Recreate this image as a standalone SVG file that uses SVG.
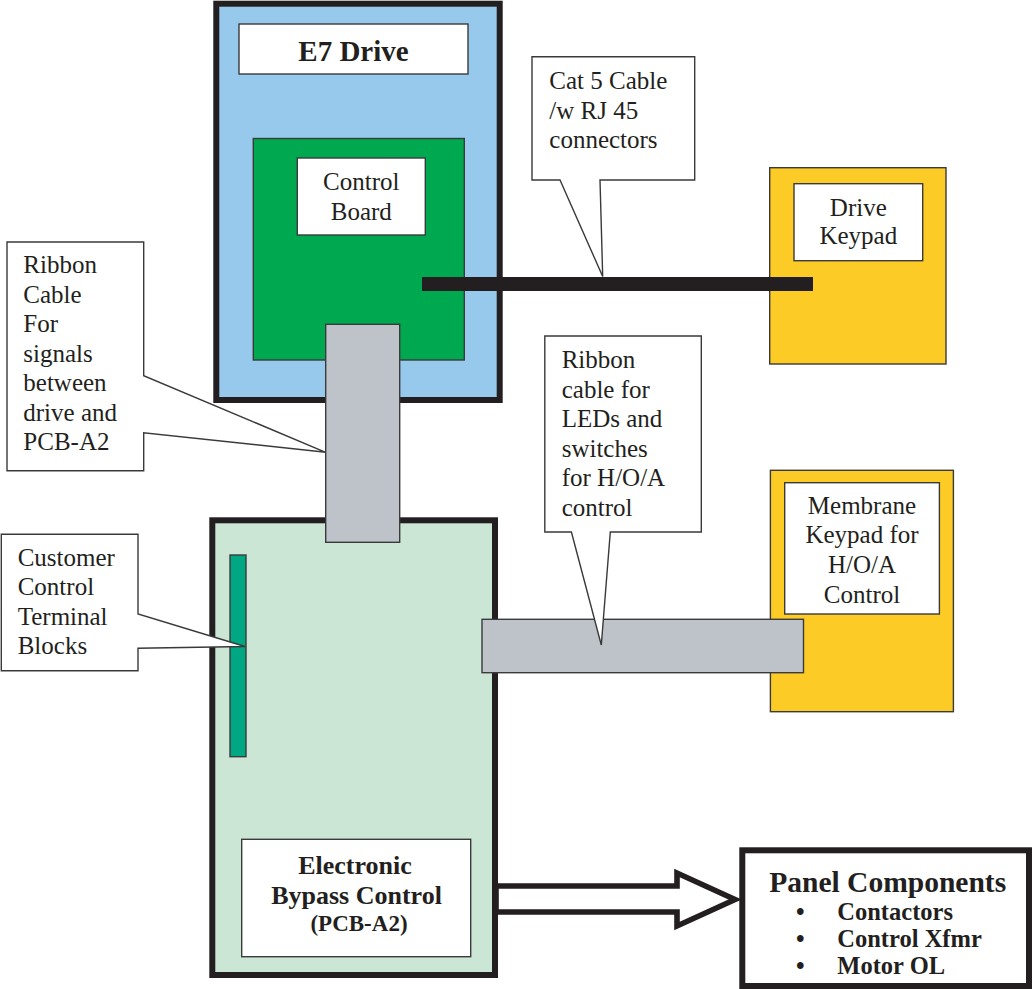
<svg xmlns="http://www.w3.org/2000/svg" width="1032" height="989" viewBox="0 0 1032 989">
<style>
.thick{stroke:#231f20;stroke-width:6;}
.thin{stroke:#3a3a3a;stroke-width:1.4;}
.lbl{fill:#fff;stroke:#3a3a3a;stroke-width:1.4;}
.t{font-family:"Liberation Serif","Times New Roman",serif;font-size:25px;fill:#231f20;}
.c{text-anchor:middle;}
.b{font-weight:bold;}
.li{font-size:24.5px;}
</style>
<rect width="1032" height="989" fill="#fff"/>
<g id="e7-drive">
  <rect x="216.3" y="3.7" width="283.4" height="396.3" fill="#96c9ec" class="thick"/>
  <rect x="239" y="24" width="229" height="50" class="lbl"/>
  <text x="353.5" y="60.7" class="t c b" style="font-size:29px">E7 Drive</text>
</g>
<g id="control-board">
  <rect x="253.3" y="138.5" width="211" height="221.5" fill="#00a94f" class="thin"/>
  <rect x="297.3" y="158" width="128" height="77" class="lbl"/>
  <text class="t c" x="361.3" y="190">Control</text>
  <text class="t c" x="361.3" y="220">Board</text>
</g>
<g id="drive-keypad">
  <rect x="769.7" y="167.7" width="176.3" height="196.3" fill="#fccb26" class="thin"/>
  <rect x="794" y="183.7" width="128.7" height="77" class="lbl"/>
  <text class="t c" x="858.3" y="215.7">Drive</text>
  <text class="t c" x="858.3" y="244">Keypad</text>
</g>
<g id="membrane-keypad">
  <rect x="770.4" y="470.3" width="183" height="241.4" fill="#fccb26" class="thin"/>
  <rect x="784.7" y="482.7" width="154.7" height="131.3" class="lbl"/>
  <text class="t c" x="862" y="514">Membrane</text>
  <text class="t c" x="862" y="543.3">Keypad for</text>
  <text class="t c" x="862" y="572.7">H/O/A</text>
  <text class="t c" x="862" y="602.7">Control</text>
</g>
<g id="pcb-a2">
  <rect x="212.3" y="520.3" width="282.7" height="454.7" fill="#cce6d6" class="thick"/>
  <rect x="230" y="555" width="16" height="201.7" fill="#00a783" class="thin"/>
  <rect x="241.7" y="839.3" width="229" height="117.4" class="lbl"/>
  <text class="t c b" x="355" y="874.3" style="font-size:26px">Electronic</text>
  <text class="t c b" x="356.5" y="904" style="font-size:26px">Bypass Control</text>
  <text class="t c b" x="359" y="930.5" style="font-size:23px">(PCB-A2)</text>
</g>
<g id="panel-components">
  <rect x="742.3" y="850.3" width="286.7" height="135.7" fill="#fff" class="thick"/>
  <text class="t c b" x="887.7" y="891.5" style="font-size:28.5px" textLength="237" lengthAdjust="spacingAndGlyphs">Panel Components</text>
  <text class="t b li" x="796" y="920">•</text>
  <text class="t b li" x="837.3" y="920">Contactors</text>
  <text class="t b li" x="796" y="947">•</text>
  <text class="t b li" x="837.3" y="947">Control Xfmr</text>
  <text class="t b li" x="796" y="974">•</text>
  <text class="t b li" x="837.3" y="974">Motor OL</text>
</g>
<g id="connectors">
  <rect x="422" y="277" width="391" height="14" fill="#231f20"/>
  <rect x="325.7" y="324.3" width="74" height="218" fill="#bec3ca" class="thin"/>
  <rect x="482" y="619.3" width="321.5" height="53.4" fill="#bec3ca" class="thin"/>
  <polygon points="496,886 677,886 677,873 735,899.5 677,926 677,912 496,912" fill="#fff" stroke="#231f20" stroke-width="5.6" stroke-linejoin="miter"/>
</g>
<g id="callout-cat5">
  <polygon points="532,56.7 694.7,56.7 694.7,180 600,180 602.7,276.5 560,180 532,180" class="lbl"/>
  <text class="t" x="549.3" y="89">Cat 5 Cable</text>
  <text class="t" x="549.3" y="118.5">/w RJ 45</text>
  <text class="t" x="549.3" y="148">connectors</text>
</g>
<g id="callout-ribbon-drive">
  <polygon points="7,242 143.7,242 143.7,375.7 325.7,452.3 143.7,432.7 143.7,470.7 7,470.7" class="lbl"/>
  <text class="t" x="23.3" y="273.3">Ribbon</text>
  <text class="t" x="23.3" y="302.8">Cable</text>
  <text class="t" x="23.3" y="332.3">For</text>
  <text class="t" x="23.3" y="361.8">signals</text>
  <text class="t" x="23.3" y="391.3">between</text>
  <text class="t" x="23.3" y="420.8">drive and</text>
  <text class="t" x="23.3" y="450.3">PCB-A2</text>
</g>
<g id="callout-ribbon-hoa">
  <polygon points="544.8,336 701.3,336 701.3,532 610.3,532 601.3,645 571.4,532 544.8,532" class="lbl"/>
  <text class="t" x="561.7" y="368.3">Ribbon</text>
  <text class="t" x="561.7" y="397.8">cable for</text>
  <text class="t" x="561.7" y="427.3">LEDs and</text>
  <text class="t" x="561.7" y="456.8">switches</text>
  <text class="t" x="561.7" y="486.3">for H/O/A</text>
  <text class="t" x="561.7" y="515.8">control</text>
</g>
<g id="callout-terminal">
  <polygon points="1.3,534.3 138,534.3 138,614 245,646.5 138,648.3 138,670.7 1.3,670.7" class="lbl"/>
  <text class="t" x="17.7" y="565.7">Customer</text>
  <text class="t" x="17.7" y="595">Control</text>
  <text class="t" x="17.7" y="624.5">Terminal</text>
  <text class="t" x="17.7" y="654">Blocks</text>
</g>
</svg>
